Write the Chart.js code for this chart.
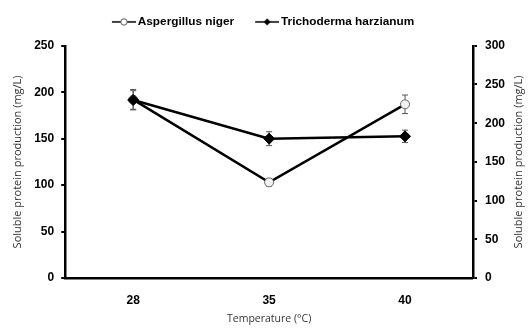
<!DOCTYPE html>
<html>
<head>
<meta charset="utf-8">
<script src="https://cdn.jsdelivr.net/npm/chart.js@4.4.0/dist/chart.umd.min.js"></script>
<style>
  html, body { margin: 0; padding: 0; background: #fff; }
  #wrap { width: 529px; height: 329px; }
</style>
</head>
<body>
<div id="wrap"><canvas id="chart"></canvas></div>
<script>
// temperature categories
const labels = ['28', '35', '40'];

// Aspergillus niger (left axis, mg/L)
const asperValues = [192, 103, 187];
const asperErrors = [11, 4, 10];

// Trichoderma harzianum (right axis, mg/L)
const trichoValues = [230, 180, 183];
const trichoErrors = [12, 9, 8];

const leftTicks = [0, 50, 100, 150, 200, 250];
const rightTicks = [0, 50, 100, 150, 200, 250, 300];

const yTitle = 'Soluble protein production (mg/L)';
const xTitle = 'Temperature (°C)';

// legend glyph: short line with the marker in the middle (left part of canvas is empty)
function legendGlyph(kind) {
    const c = document.createElement('canvas');
    c.width = 37; c.height = 10;
    const g = c.getContext('2d');
    g.strokeStyle = '#000';
    g.lineWidth = 1.5;
    g.beginPath(); g.moveTo(13, 5); g.lineTo(37, 5); g.stroke();
    if (kind === 'circle') {
        g.fillStyle = '#fff';
        g.strokeStyle = '#555';
        g.lineWidth = 1;
        g.beginPath(); g.arc(25, 5, 3.2, 0, Math.PI * 2); g.fill(); g.stroke();
    } else {
        g.fillStyle = '#000';
        g.beginPath();
        g.moveTo(25, 1.5); g.lineTo(28.5, 5); g.lineTo(25, 8.5); g.lineTo(21.5, 5);
        g.closePath(); g.fill();
    }
    return c;
}

// error bars drawn under the lines
const errorBars = {
    id: 'errorBars',
    beforeDatasetsDraw(chart) {
        const ctx = chart.ctx;
        chart.data.datasets.forEach((ds, i) => {
            const meta = chart.getDatasetMeta(i);
            const scale = chart.scales[ds.yAxisID];
            ctx.save();
            ctx.strokeStyle = '#555';
            ctx.lineWidth = 1;
            meta.data.forEach((pt, j) => {
                const v = ds.data[j], e = ds.errors[j];
                const top = scale.getPixelForValue(v + e);
                const bot = scale.getPixelForValue(v - e);
                ctx.beginPath();
                ctx.moveTo(pt.x, top); ctx.lineTo(pt.x, bot);
                ctx.moveTo(pt.x - 3, top); ctx.lineTo(pt.x + 3, top);
                ctx.moveTo(pt.x - 3, bot); ctx.lineTo(pt.x + 3, bot);
                ctx.stroke();
            });
            ctx.restore();
        });
    }
};

// extra room under the legend
const legendGap = {
    id: 'legendGap',
    beforeInit(chart) {
        const fit = chart.legend.fit;
        chart.legend.fit = function () {
            fit.bind(chart.legend)();
            this.height += 8;
        };
    }
};

// right axis title reads bottom-to-top like the left one
const rightTitle = {
    id: 'rightTitle',
    afterDraw(chart) {
        const ctx = chart.ctx;
        const a = chart.chartArea;
        ctx.save();
        ctx.translate(519, (a.top + a.bottom) / 2);
        ctx.rotate(-Math.PI / 2);
        ctx.textAlign = 'center';
        ctx.textBaseline = 'middle';
        ctx.font = '11px "Open Sans"';
        ctx.fillStyle = '#333';
        ctx.fillText(yTitle, 0, 0);
        ctx.restore();
    }
};

const tickFont = { family: 'Liberation Sans', weight: 'bold', size: 12 };
const titleFont = { family: 'Open Sans', size: 11 };

const ctx = document.getElementById('chart').getContext('2d');

const chart = new Chart(ctx, {
    type: 'line',
    data: {
        labels: labels,
        datasets: [
            {
                label: 'Aspergillus niger',
                data: asperValues,
                errors: asperErrors,
                yAxisID: 'y',
                borderColor: '#000',
                borderWidth: 2.5,
                pointStyle: 'circle',
                pointRadius: 4.5,
                pointBackgroundColor: '#f2f2f2',
                pointBorderColor: '#666',
                pointBorderWidth: 1,
                tension: 0,
                order: 2
            },
            {
                label: 'Trichoderma harzianum',
                data: trichoValues,
                errors: trichoErrors,
                yAxisID: 'y1',
                borderColor: '#000',
                borderWidth: 2.5,
                pointStyle: 'rectRot',
                pointRadius: 5.5,
                pointBackgroundColor: '#000',
                pointBorderColor: '#000',
                pointBorderWidth: 1,
                tension: 0,
                order: 1
            }
        ]
    },
    options: {
        responsive: true,
        maintainAspectRatio: false,
        animation: false,
        layout: { padding: { top: 4, bottom: 4, left: 4, right: 16 } },
        plugins: {
            legend: {
                display: true,
                position: 'top',
                sort: (a, b) => a.datasetIndex - b.datasetIndex,
                labels: {
                    color: '#000',
                    font: { family: 'Liberation Sans', weight: 'bold', size: 11.8 },
                    usePointStyle: true,
                    pointStyleWidth: 29,
                    padding: 12,
                    generateLabels: (c) => c.data.datasets.map((ds, i) => ({
                        text: ds.label,
                        datasetIndex: i,
                        pointStyle: legendGlyph(i === 0 ? 'circle' : 'diamond'),
                        fillStyle: '#000',
                        strokeStyle: '#000',
                        lineWidth: 0,
                        fontColor: '#000'
                    }))
                }
            },
            tooltip: { enabled: false }
        },
        scales: {
            x: {
                type: 'category',
                offset: true,
                grid: { display: false, drawTicks: false },
                border: { display: true, color: '#000', width: 2.5 },
                ticks: { color: '#000', padding: 15, font: tickFont },
                title: {
                    display: true,
                    text: xTitle,
                    color: '#333',
                    padding: { top: -10, bottom: 0 },
                    font: { family: 'Open Sans', size: 10.5 }
                }
            },
            y: {
                position: 'left',
                min: 0,
                max: 250,
                afterBuildTicks: (s) => { s.ticks = leftTicks.map(v => ({ value: v })); },
                grid: { drawOnChartArea: false, drawTicks: true, tickLength: 4, color: '#000', lineWidth: 2 },
                border: { display: true, color: '#000', width: 2.5 },
                ticks: { color: '#000', padding: 7, font: tickFont },
                title: {
                    display: true,
                    text: yTitle,
                    color: '#333',
                    padding: { top: 7, bottom: 3 },
                    font: titleFont
                }
            },
            y1: {
                position: 'right',
                min: 0,
                max: 300,
                afterBuildTicks: (s) => { s.ticks = rightTicks.map(v => ({ value: v })); },
                grid: { drawOnChartArea: false, drawTicks: true, tickLength: 4, color: '#000', lineWidth: 2 },
                border: { display: true, color: '#000', width: 2.5 },
                ticks: { color: '#000', padding: 8, font: tickFont },
                title: { display: false }
            }
        }
    },
    plugins: [errorBars, legendGap, rightTitle]
});
</script>
</body>
</html>
